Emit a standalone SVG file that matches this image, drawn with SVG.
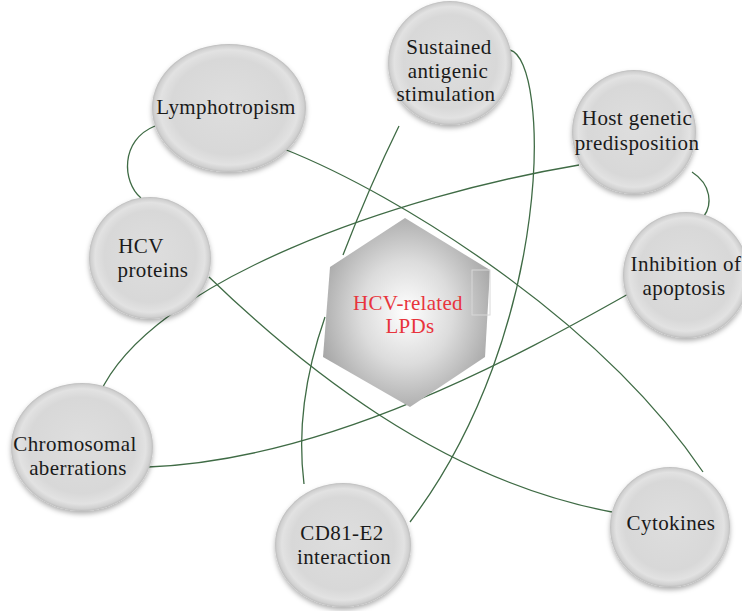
<svg xmlns="http://www.w3.org/2000/svg" width="742" height="611" viewBox="0 0 742 611">
<style>
.node{fill:url(#ballGrad);filter:url(#shadow)}
.lbl{font-family:"Liberation Serif","Times New Roman",serif;font-size:21px;letter-spacing:0.4px;fill:#1a1a1a;text-anchor:middle}
.hexlbl{font-family:"Liberation Serif","Times New Roman",serif;font-size:21px;letter-spacing:0.3px;fill:#e8343c;text-anchor:middle}
.conn{fill:none;stroke:#3f6b45;stroke-width:1.3}
</style>
<defs>
<radialGradient id="ballGrad" cx="50%" cy="50%" r="50%" fx="50%" fy="45%">
<stop offset="0" stop-color="#dedede"/>
<stop offset="0.75" stop-color="#d8d8d8"/>
<stop offset="0.9" stop-color="#e2e2e2"/>
<stop offset="0.97" stop-color="#d0d0d0"/>
<stop offset="1" stop-color="#bdbdbd"/>
</radialGradient>
<radialGradient id="hexGrad" cx="50%" cy="50%" r="55%">
<stop offset="0" stop-color="#ffffff"/>
<stop offset="0.5" stop-color="#dcdcdc"/>
<stop offset="1" stop-color="#a6a6a6"/>
</radialGradient>
<filter id="shadow" x="-20%" y="-20%" width="140%" height="150%">
<feDropShadow dx="0" dy="3" stdDeviation="2.5" flood-color="#000" flood-opacity="0.3"/>
</filter>
</defs>
<rect width="742" height="611" fill="#ffffff"/>
<g id="connectors">
<path class="conn" d="M155,126 C120,140 122,182 141,198"/>
<path class="conn" d="M284,149 C400,195 600,320 703,472"/>
<path class="conn" d="M399,126 Q370,185 343,255"/>
<path class="conn" d="M510,50 C550,60 555,330 410,522"/>
<path class="conn" d="M579,165 C400,195 150,280 99,395"/>
<path class="conn" d="M692,172 C712,185 712,205 704,216"/>
<path class="conn" d="M630,293 C520,355 330,460 148,467"/>
<path class="conn" d="M209,277 C300,365 440,480 612,512"/>
<path class="conn" d="M304,484 C296,420 310,360 325,317"/>
</g>
<g id="center">
<polygon points="405,218 490,270 485,357 410,407 323,357 330,267" fill="url(#hexGrad)"/>
<rect x="472" y="270" width="18" height="45" fill="none" stroke="#d8d8d8" stroke-width="1"/>
<text class="hexlbl" x="408" y="310">HCV-related</text>
<text class="hexlbl" x="410" y="333">LPDs</text>
</g>
<g id="lymphotropism">
<ellipse class="node" cx="229" cy="108" rx="77" ry="64"/>
<text class="lbl" x="226" y="114">Lymphotropism</text>
</g>
<g id="sustained">
<circle class="node" cx="450" cy="63" r="62"/>
<text class="lbl" x="449" y="54">Sustained</text>
<text class="lbl" x="448" y="78">antigenic</text>
<text class="lbl" x="446" y="101">stimulation</text>
</g>
<g id="host">
<circle class="node" cx="634" cy="132" r="62"/>
<text class="lbl" x="637" y="125">Host genetic</text>
<text class="lbl" x="637" y="150">predisposition</text>
</g>
<g id="inhibition">
<circle class="node" cx="686" cy="275" r="63"/>
<text class="lbl" x="686" y="271">Inhibition of</text>
<text class="lbl" x="684" y="295">apoptosis</text>
</g>
<g id="hcvproteins">
<circle class="node" cx="150" cy="258" r="61"/>
<text class="lbl" x="141" y="253">HCV</text>
<text class="lbl" x="153" y="277">proteins</text>
</g>
<g id="chromosomal">
<ellipse class="node" cx="82" cy="447" rx="71" ry="64"/>
<text class="lbl" x="75" y="451">Chromosomal</text>
<text class="lbl" x="78" y="475">aberrations</text>
</g>
<g id="cd81">
<ellipse class="node" cx="343" cy="545" rx="68" ry="62"/>
<text class="lbl" x="342" y="540">CD81-E2</text>
<text class="lbl" x="344" y="564">interaction</text>
</g>
<g id="cytokines">
<circle class="node" cx="670" cy="527" r="60"/>
<text class="lbl" x="671" y="530">Cytokines</text>
</g>
</svg>
